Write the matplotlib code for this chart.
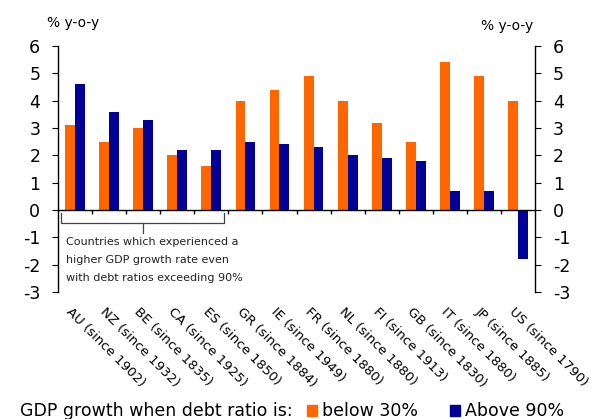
import matplotlib
matplotlib.use("Agg")
import matplotlib.pyplot as plt
from matplotlib.transforms import blended_transform_factory
from matplotlib.patches import Patch

plt.rcParams['font.family'] = ['DejaVu Sans']
plt.rcParams['axes.unicode_minus'] = False

countries = ["AU (since 1902)", "NZ (since 1932)", "BE (since 1835)", "CA (since 1925)",
             "ES (since 1850)", "GR (since 1884)", "IE (since 1949)", "FR (since 1880)",
             "NL (since 1880)", "FI (since 1913)", "GB (since 1830)", "IT (since 1880)",
             "JP (since 1885)", "US (since 1790)"]
below_30 = [3.1, 2.5, 3.0, 2.0, 1.6, 4.0, 4.4, 4.9, 4.0, 3.2, 2.5, 5.4, 4.9, 4.0]
above_90 = [4.6, 3.6, 3.3, 2.2, 2.2, 2.5, 2.4, 2.3, 2.0, 1.9, 1.8, 0.7, 0.7, -1.8]
y_ticks = [-3, -2, -1, 0, 1, 2, 3, 4, 5, 6]

orange = '#FF6600'
navy = '#000099'

fig = plt.figure(figsize=(5.97, 4.19), dpi=100)
ax = fig.add_axes([0.0972, 0.3031, 0.7990, 0.5871])

x = list(range(len(countries)))
w = 0.29
ax.bar([i - w / 2 for i in x], below_30, width=w, color=orange, zorder=3)
ax.bar([i + w / 2 for i in x], above_90, width=w, color=navy, zorder=3)

ax.set_xlim(-0.5, len(countries) - 0.5)
ax.set_ylim(-3, 6)
ax.set_yticks(y_ticks)
ax.set_yticklabels([str(t) for t in y_ticks])

# achsen
ax.spines['top'].set_visible(False)
ax.spines['bottom'].set_position(('data', 0))
ax.spines['bottom'].set_zorder(4)
for s in ['left', 'right', 'bottom']:
    ax.spines[s].set_linewidth(1.0)
ax.tick_params(axis='y', which='both', left=True, right=True, labelleft=True,
               labelright=True, direction='out', length=4.3, pad=8.5, labelsize=12.5)
ax.set_xticks([i + 0.5 for i in x[:-1]], minor=True)
ax.set_xticks([])
ax.tick_params(axis='x', which='minor', direction='out', length=3, width=1)

# laenderbeschriftung
trans = blended_transform_factory(ax.transData, ax.transAxes)
for i, lab in zip(x, countries):
    ax.text(i - 0.06, -0.052, lab, transform=trans, rotation=-45,
            rotation_mode='anchor', ha='left', va='top', fontsize=9.5)

fig.text(0.079, 0.945, "% y-o-y", fontsize=10, ha='left', va='center')
fig.text(0.893, 0.938, "% y-o-y", fontsize=10, ha='right', va='center')

# klammer unter den ersten fuenf laendern
bx0, bx1, by0, by1 = -0.41, 4.37, -0.12, -0.47
ax.plot([bx0, bx0, bx1, bx1], [by0, by1, by1, by0], color='#444444', lw=0.9,
        zorder=4, clip_on=False)
ax.plot([(bx0 + bx1) / 2] * 2, [by1, -0.85], color='#444444', lw=0.9, zorder=4,
        clip_on=False)
ax.text(-0.28, -1.0, "Countries which experienced a\nhigher GDP growth rate even\n"
        "with debt ratios exceeding 90%", fontsize=8, ha='left', va='top',
        linespacing=1.95, color='#222222')

# legende
fig.text(0.034, 0.018, "GDP growth when debt ratio is:", fontsize=12.5, ha='left',
         va='center')
handles = [Patch(color=orange, label='below 30%'), Patch(color=navy, label='Above 90%')]
fig.legend(handles=handles, ncol=2, frameon=False, loc='center left',
           bbox_to_anchor=(0.514, 0.018), fontsize=12.5, handlelength=0.6,
           handleheight=0.6, handletextpad=0.3, columnspacing=1.8, borderpad=0,
           borderaxespad=0)

fig.savefig("out.png", dpi=100)
